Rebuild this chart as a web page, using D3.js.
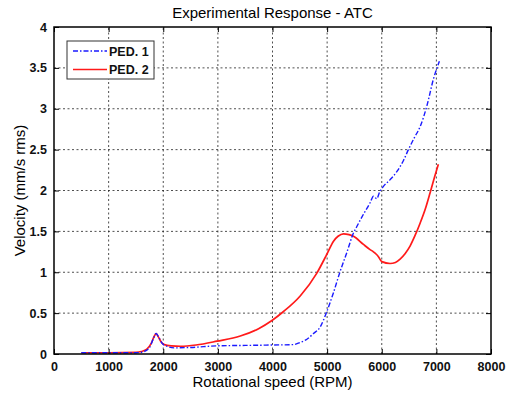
<!DOCTYPE html>
<html>
<head>
<meta charset="utf-8">
<script src="https://cdn.jsdelivr.net/npm/d3@7"></script>
<style>
    body { margin: 0; background: #fff; }
    text { font-family: "Liberation Sans", Arial, sans-serif; }
</style>
</head>
<body>
<svg id="chart" width="513" height="393"></svg>
<script>
// data
var xTicks = [0, 1000, 2000, 3000, 4000, 5000, 6000, 7000, 8000];
var yTicks = [0, 0.5, 1, 1.5, 2, 2.5, 3, 3.5, 4];

var ped1_rpm = [500, 1000, 1500, 1650, 1750, 1820, 1870, 1920, 1980, 2050, 2200, 2500, 3000, 3500, 4000, 4385, 4500, 4630, 4750, 4873, 4995, 5116, 5238, 5360, 5482, 5544, 5665, 5787, 5848, 5909, 5960, 6031, 6150, 6275, 6400, 6488, 6600, 6702, 6824, 6945, 7055];
var ped1_vel = [0.015, 0.015, 0.015, 0.03, 0.08, 0.19, 0.25, 0.2, 0.13, 0.1, 0.075, 0.08, 0.1, 0.105, 0.11, 0.115, 0.14, 0.18, 0.25, 0.33, 0.52, 0.75, 1.01, 1.24, 1.48, 1.56, 1.71, 1.85, 1.93, 1.9, 1.98, 2.05, 2.13, 2.23, 2.37, 2.5, 2.65, 2.78, 3.03, 3.36, 3.58];

var ped2_rpm = [500, 1000, 1500, 1600, 1700, 1780, 1830, 1870, 1910, 1960, 2020, 2150, 2313, 2600, 2984, 3410, 3745, 3990, 4202, 4507, 4812, 4995, 5117, 5200, 5300, 5400, 5482, 5665, 5780, 5848, 5900, 5939, 6001, 6153, 6250, 6336, 6430, 6518, 6610, 6702, 6800, 6884, 6960, 7036];
var ped2_vel = [0.015, 0.015, 0.02, 0.03, 0.06, 0.13, 0.21, 0.25, 0.21, 0.15, 0.115, 0.1, 0.095, 0.11, 0.157, 0.22, 0.31, 0.41, 0.52, 0.71, 0.99, 1.22, 1.38, 1.44, 1.47, 1.46, 1.44, 1.34, 1.28, 1.25, 1.22, 1.19, 1.13, 1.107, 1.12, 1.16, 1.23, 1.32, 1.45, 1.6, 1.78, 1.97, 2.15, 2.32];

var seriesNames = ["PED. 1", "PED. 2"];

var svg = d3.select("#chart");
const margins = {top: 27, right: 22, bottom: 39, left: 54}
var width = 513, height = 393;

var x = d3.scaleLinear().domain([0, 8000]).range([margins.left, width - margins.right]);
var y = d3.scaleLinear().domain([0, 4]).range([height - margins.bottom, margins.top]);

// grid
var grid = svg.append("g").attr("class", "grid");
grid.selectAll("line.gx")
    .data(xTicks.slice(1, -1)).enter()
    .append("line").classed("gx", true)
    .attr("x1", d => x(d)).attr("x2", d => x(d))
    .attr("y1", y(0)).attr("y2", y(4))
    .attr("stroke", "#222").attr("stroke-width", 0.8)
    .attr("stroke-dasharray", "2,2.5");
grid.selectAll("line.gy")
    .data(yTicks.slice(1, -1)).enter()
    .append("line").classed("gy", true)
    .attr("y1", d => y(d)).attr("y2", d => y(d))
    .attr("x1", x(0)).attr("x2", x(8000))
    .attr("stroke", "#222").attr("stroke-width", 0.8)
    .attr("stroke-dasharray", "2,2.5");

// series
var line = d3.line().x(d => x(d[0])).y(d => y(d[1])).curve(d3.curveMonotoneX);
svg.append("path")
    .datum(d3.zip(ped2_rpm, ped2_vel))
    .attr("d", line)
    .attr("fill", "none").attr("stroke", "#ff1a1a").attr("stroke-width", 1.7);
svg.append("path")
    .datum(d3.zip(ped1_rpm, ped1_vel))
    .attr("d", line)
    .attr("fill", "none").attr("stroke", "#1a1aff").attr("stroke-width", 1.4)
    .attr("stroke-dasharray", "5,2,1.5,2");

// axes with inward ticks on all four sides
var axisBottom = d3.axisBottom(x).tickValues(xTicks).tickSize(-5).tickPadding(8).tickFormat(d3.format("d"));
var axisTop = d3.axisTop(x).tickValues(xTicks).tickSize(-5).tickFormat("");
var axisLeft = d3.axisLeft(y).tickValues(yTicks).tickSize(-5).tickPadding(7).tickFormat(d => d);
var axisRight = d3.axisRight(y).tickValues(yTicks).tickSize(-5).tickFormat("");

function styleAxis(g) {
    g.select(".domain").remove();
    g.selectAll("line").attr("stroke", "#000");
    g.selectAll("text").attr("font-size", 12.5).attr("font-weight", "bold").attr("fill", "#111")
        .style("font-family", "'Liberation Sans', Arial, sans-serif");
}
svg.append("g").attr("transform", "translate(0," + y(0) + ")").call(axisBottom).call(styleAxis);
svg.append("g").attr("transform", "translate(0," + y(4) + ")").call(axisTop).call(styleAxis);
svg.append("g").attr("transform", "translate(" + x(0) + ",0)").call(axisLeft).call(styleAxis);
svg.append("g").attr("transform", "translate(" + x(8000) + ",0)").call(axisRight).call(styleAxis);

svg.append("rect")
    .attr("x", x(0)).attr("y", y(4))
    .attr("width", x(8000) - x(0)).attr("height", y(0) - y(4))
    .attr("fill", "none").attr("stroke", "#000").attr("stroke-width", 1.5);

// labels
svg.append("text")
    .attr("x", (x(0) + x(8000)) / 2).attr("y", 18)
    .attr("text-anchor", "middle").attr("font-size", 15)
    .text("Experimental Response - ATC");
svg.append("text")
    .attr("x", (x(0) + x(8000)) / 2).attr("y", 387)
    .attr("text-anchor", "middle").attr("font-size", 15)
    .text("Rotational speed (RPM)");
svg.append("text")
    .attr("transform", "translate(25," + ((y(0) + y(4)) / 2) + ") rotate(-90)")
    .attr("text-anchor", "middle").attr("font-size", 15)
    .text("Velocity (mm/s rms)");

// legend
var legend = svg.append("g").attr("transform", "translate(67,41)");
legend.append("rect")
    .attr("width", 87).attr("height", 38)
    .attr("fill", "#fff").attr("stroke", "#333").attr("stroke-width", 1);
var items = legend.selectAll("g.item")
    .data(seriesNames).enter()
    .append("g").classed("item", true)
    .attr("transform", (d, i) => "translate(0," + (10 + i * 18.5) + ")");
items.append("line")
    .attr("x1", 6).attr("x2", 40)
    .attr("stroke", (d, i) => i == 0 ? "#1a1aff" : "#ff1a1a")
    .attr("stroke-width", (d, i) => i == 0 ? 1.4 : 1.7)
    .attr("stroke-dasharray", (d, i) => i == 0 ? "5,2,1.5,2" : null);
items.append("text")
    .attr("x", 42).attr("y", 4.5)
    .attr("font-size", 12.5).attr("font-weight", "bold").attr("fill", "#111")
    .text(d => d);
</script>
</body>
</html>
